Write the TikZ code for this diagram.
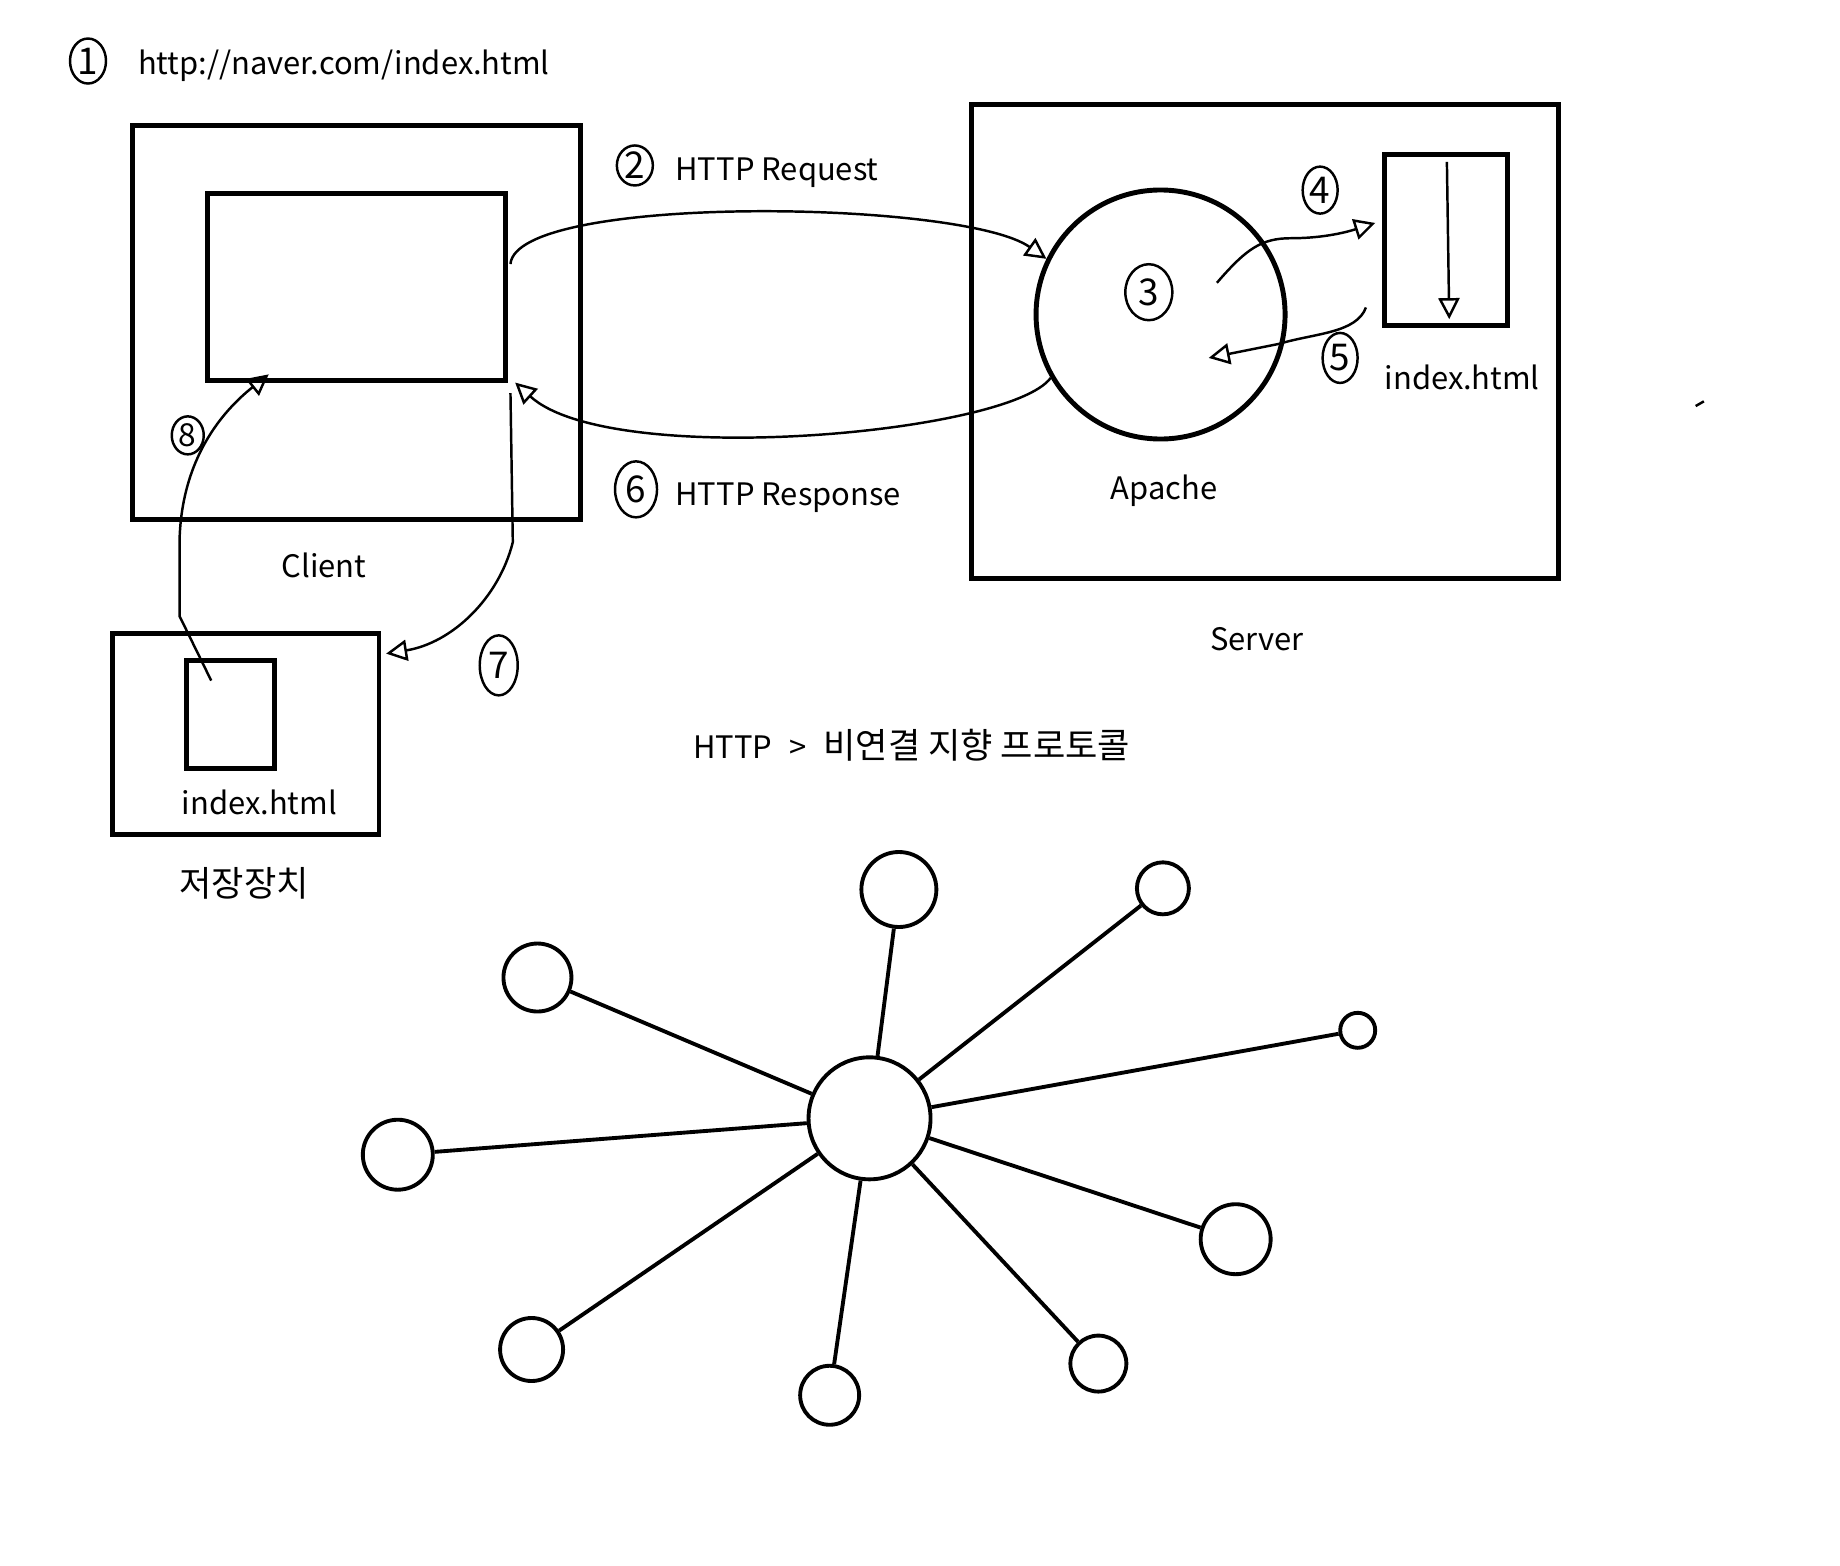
\documentclass[tikz,border=0pt]{standalone}
\usepackage{fontspec}
\setmainfont{Noto Sans CJK KR}
\usetikzlibrary{arrows.meta,shapes.geometric,fit}

\begin{document}
\begin{tikzpicture}[x=0.011735cm, y=-0.011735cm, >={Triangle[open,length=6pt,width=6pt]},
		box/.style={draw, line width=1.4pt, inner sep=0pt},
		pen/.style={line width=0.7pt},
		num/.style={draw, ellipse, line width=0.7pt, inner sep=0pt, minimum width=0.36cm, minimum height=0.45cm, font=\fontsize{10.5}{12}\selectfont},
		lbl/.style={inner sep=0pt, font=\fontsize{8.8}{10}\selectfont},
		kor/.style={inner sep=0pt, font=\fontsize{10}{12}\selectfont},
		ball/.style={draw, circle, line width=1.1pt, inner sep=0pt}]
			\useasboundingbox (0,0) rectangle (1568,1334);

			\node[box, fit={(113,107) (495,443)}] (client) {};
			\node[box, fit={(177,165) (431,324)}] (screen) {};
			\node[box, fit={(828,89) (1328,493)}] (server) {};
			\node[box, fit={(1180,132) (1285,277)}] (srvfile) {};
			\node[box, fit={(96,540) (323,711)}] (disk) {};
			\node[box, fit={(159,563) (234,655)}] (diskfile) {};
			\node[ball, line width=1.4pt, minimum size=2.49cm] (apache) at (989,268) {};

			\node[num] (n1) at (75,52) {1};
			\node[lbl, anchor=west] (url) at (117,56) {http://naver.com/index.html};
			\node[num, minimum height=0.4cm] (n2) at (541,141) {2};
			\node[lbl, anchor=west] (req) at (575,147) {HTTP Request};
			\node[num, minimum width=0.47cm, minimum height=0.56cm] (n3) at (979,249) {3};
			\node[num, minimum width=0.35cm, minimum height=0.47cm] (n4) at (1125,162) {4};
			\node[num, minimum width=0.35cm, minimum height=0.5cm] (n5) at (1142,305) {5};
			\node[num, minimum width=0.42cm, minimum height=0.56cm] (n6) at (542,417) {6};
			\node[lbl, anchor=west] (resp) at (575,424) {HTTP Response};
			\node[num, minimum width=0.38cm, minimum height=0.6cm] (n7) at (425,567) {7};
			\node[num, minimum width=0.32cm, minimum height=0.38cm, font=\fontsize{9}{10}\selectfont] (n8) at (160,371) {8};

			\node[lbl] (clientlbl) at (276,482) {Client};
			\node[lbl] (apachelbl) at (992,418) {Apache};
			\node[lbl] (serverlbl) at (1071,545) {Server};
			\node[lbl] (srvfilelbl) at (1246,322) {index.html};
			\node[lbl] (diskfilelbl) at (221,684) {index.html};
			\node[kor] (disklbl) at (208,753) {저장장치};
			\node[lbl, anchor=west] (proto) at (590,635) {HTTP\hspace{0.55em}>\hspace{0.55em}{\fontsize{10}{12}\selectfont 비연결 지향 프로토콜}};

			\coordinate (reqS) at (435,225);
			\draw[pen, ->] (reqS) .. controls (440,165) and (820,170) .. (apache.154);
			\coordinate (respE) at (439,326);
			\draw[pen, ->] (apache.210) .. controls (860,370) and (520,400) .. (respE);
			\coordinate (readS) at (1037,241);
			\coordinate (readE) at (1172,190);
			\draw[pen, ->] (readS) .. controls (1062,212) and (1075,203) .. (1100,203) .. controls (1130,203) and (1150,197) .. (readE);
			\coordinate (scanS) at (1233,138);
			\coordinate (scanE) at (1235,272);
			\draw[pen, ->] (scanS) -- (scanE);
			\coordinate (backS) at (1164,262);
			\coordinate (backE) at (1030,305);
			\draw[pen, ->] (backS) .. controls (1156,284) and (1120,284) .. (1090,293) -- (backE);
			\coordinate (saveS) at (435,335);
			\coordinate (saveE) at (329,557);
			\draw[pen, ->] (saveS) -- (437,462) .. controls (425,510) and (385,548) .. (saveE);
			\coordinate (loadS) at (180,580);
			\coordinate (loadE) at (229,319);
			\draw[pen, ->] (loadS) -- (153,525) -- (153,460) .. controls (155,390) and (190,350) .. (loadE);
			\draw[pen] (1445,346) -- (1452,342);

			\node[ball, minimum size=1.22cm] (hub) at (741,953) {};
			\foreach \n/\x/\y/\s in {
					a/766/758/0.75, b/991/757/0.52, c/1157/878/0.35,
					d/1053/1056/0.70, e/936/1162/0.56, f/707/1189/0.59,
					g/453/1150/0.63, h/339/984/0.70, i/458/833/0.68
				} {
					\node[ball, minimum size=\s cm] (\n) at (\x,\y) {};
					\draw[line width=1.1pt] (hub) -- (\n);
				}
		\end{tikzpicture}
\end{document}
